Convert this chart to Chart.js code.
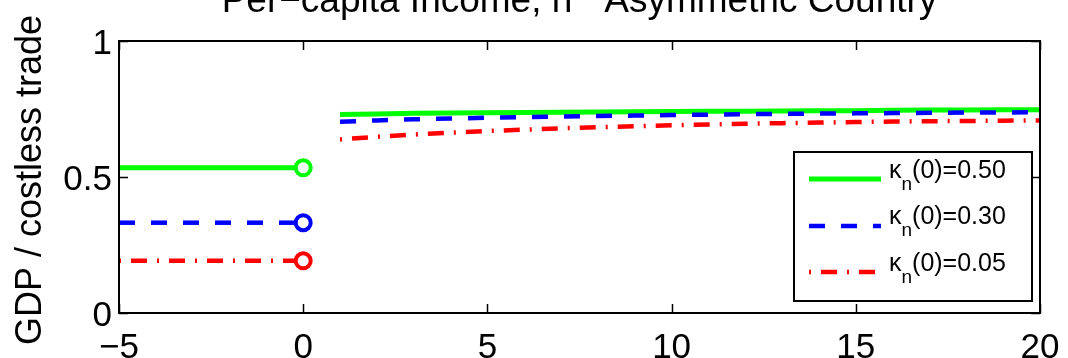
<!DOCTYPE html>
<html>
<head>
<meta charset="utf-8">
<script src="https://cdn.jsdelivr.net/npm/chart.js@4.4.0/dist/chart.umd.min.js"></script>
<style>
  body { margin: 0; background: #fff; }
  canvas { display: block; }
</style>
</head>
<body>
<canvas id="incomeChart" width="1068" height="358"></canvas>
<script>
// years before and after the change
const preYears = [-5, 0];
const postYears = [1, 2, 3, 4, 5, 6, 7, 8, 9, 10, 11, 12, 13, 14, 15, 16, 17, 18, 19, 20];

const kappaLabels = ["0.50", "0.30", "0.05"];
const preIncome = [0.534, 0.332, 0.192];

const postHigh = [0.730, 0.732, 0.734, 0.735, 0.736, 0.737, 0.738, 0.739, 0.740, 0.741,
                  0.742, 0.742, 0.743, 0.744, 0.744, 0.745, 0.746, 0.746, 0.747, 0.747];
const postMid  = [0.703, 0.708, 0.712, 0.715, 0.718, 0.720, 0.722, 0.724, 0.726, 0.728,
                  0.729, 0.731, 0.732, 0.733, 0.734, 0.735, 0.736, 0.737, 0.737, 0.738];
const postLow  = [0.638, 0.648, 0.656, 0.663, 0.669, 0.674, 0.679, 0.683, 0.687, 0.690,
                  0.693, 0.696, 0.698, 0.700, 0.702, 0.704, 0.705, 0.706, 0.707, 0.708];

const xTicks = [-5, 0, 5, 10, 15, 20];
const yTicks = [0, 0.5, 1];

const FONT = "'Liberation Sans', Arial, Helvetica, sans-serif";
const colors = ["#00ff00", "#0000ff", "#ff0000"];
const dashes = [[], [16, 16], [2, 10, 16, 10]];
const widths = [5, 4.5, 4.5];
const postSeries = [postHigh, postMid, postLow];

const datasets = [];
kappaLabels.forEach((k, i) => {
  datasets.push({
    label: "pre " + k,
    data: preYears.map(x => ({ x, y: preIncome[i] })),
    borderColor: colors[i],
    borderWidth: widths[i],
    borderDash: dashes[i],
    borderCapStyle: "butt",
    pointRadius: [0, 7.5],
    pointBorderWidth: 4,
    pointBorderColor: colors[i],
    pointBackgroundColor: "#fff",
    order: 3 - i,
  });
  datasets.push({
    label: "post " + k,
    data: postYears.map((x, j) => ({ x, y: postSeries[i][j] })),
    borderColor: colors[i],
    borderWidth: widths[i],
    borderDash: dashes[i],
    borderCapStyle: "butt",
    pointRadius: 0,
    order: 3 - i,
  });
});

// box around the axes with inward ticks on all four sides
const axesBox = {
  id: "axesBox",
  afterDatasetsDraw(chart) {
    const { ctx, chartArea: a, scales } = chart;
    ctx.save();
    ctx.strokeStyle = "#000";
    ctx.lineWidth = 1.5;
    ctx.beginPath();
    xTicks.forEach(v => {
      const px = Math.round(scales.x.getPixelForValue(v)) + 0.5;
      ctx.moveTo(px, a.bottom); ctx.lineTo(px, a.bottom - 9);
      ctx.moveTo(px, a.top); ctx.lineTo(px, a.top + 9);
    });
    yTicks.forEach(v => {
      const py = Math.round(scales.y.getPixelForValue(v)) + 0.5;
      ctx.moveTo(a.left, py); ctx.lineTo(a.left + 9, py);
      ctx.moveTo(a.right, py); ctx.lineTo(a.right - 9, py);
    });
    ctx.stroke();
    ctx.lineWidth = 2;
    ctx.strokeRect(a.left, a.top, a.right - a.left, a.bottom - a.top);
    ctx.restore();
  }
};

// title, y label and the legend with subscripted kappa
const annotations = {
  id: "annotations",
  afterDraw(chart) {
    const { ctx, chartArea: a } = chart;
    ctx.save();
    ctx.fillStyle = "#000";
    ctx.textBaseline = "alphabetic";

    // title
    const t1 = "Per\u2212capita Income, n", sup = "th", t2 = " Asymmetric Country";
    ctx.font = "37px " + FONT;
    const w1 = ctx.measureText(t1).width, w2 = ctx.measureText(t2).width;
    ctx.font = "26px " + FONT;
    const ws = ctx.measureText(sup).width;
    let tx = (a.left + a.right) / 2 - (w1 + ws + w2) / 2;
    const ty = 12;
    ctx.textAlign = "left";
    ctx.font = "37px " + FONT;
    ctx.fillText(t1, tx, ty);
    ctx.font = "26px " + FONT;
    ctx.fillText(sup, tx + w1, ty - 15);
    ctx.font = "37px " + FONT;
    ctx.fillText(t2, tx + w1 + ws, ty);

    // y label
    ctx.save();
    ctx.translate(41, (a.top + a.bottom) / 2 + 3);
    ctx.rotate(-Math.PI / 2);
    ctx.textAlign = "center";
    ctx.font = "36px " + FONT;
    ctx.fillText("GDP / costless trade", 0, 0);
    ctx.restore();

    // legend
    const lx = 794, ly = 152, lw = 238, lh = 149;
    ctx.fillStyle = "#fff";
    ctx.fillRect(lx, ly, lw, lh);
    ctx.strokeStyle = "#000";
    ctx.lineWidth = 2;
    ctx.strokeRect(lx, ly, lw, lh);
    const rows = [179, 226, 272];
    const base = [178, 224, 271];
    kappaLabels.forEach((k, i) => {
      ctx.strokeStyle = colors[i];
      ctx.lineWidth = widths[i];
      ctx.lineCap = "butt";
      ctx.setLineDash(dashes[i]);
      ctx.beginPath();
      ctx.moveTo(809, rows[i]);
      ctx.lineTo(881, rows[i]);
      ctx.stroke();
      ctx.setLineDash([]);
      ctx.fillStyle = "#000";
      ctx.textAlign = "left";
      let x = 889;
      ctx.font = "25px " + FONT;
      ctx.fillText("\u03ba", x, base[i]);
      x += ctx.measureText("\u03ba").width;
      ctx.font = "19px " + FONT;
      ctx.fillText("n", x, base[i] + 12);
      x += ctx.measureText("n").width;
      ctx.font = "25px " + FONT;
      ctx.fillText("(0)=" + k, x, base[i]);
    });
    ctx.restore();
  }
};

new Chart(document.getElementById("incomeChart"), {
  type: "line",
  data: { datasets },
  options: {
    responsive: false,
    animation: false,
    layout: { padding: { top: 41, right: 28, left: 0, bottom: 0 } },
    plugins: { legend: { display: false }, tooltip: { enabled: false }, title: { display: false } },
    scales: {
      x: {
        type: "linear",
        min: -5, max: 20,
        afterBuildTicks: s => { s.ticks = xTicks.map(v => ({ value: v })); },
        afterFit: s => { s.height = 45; s.paddingLeft = 0; s.paddingRight = 0; },
        grid: { display: false, drawTicks: false },
        border: { display: false },
        ticks: {
          color: "#000",
          font: { family: FONT, size: 35 },
          padding: 14,
          maxRotation: 0,
          callback: v => (v < 0 ? "\u2212" + Math.abs(v) : String(v)),
        },
      },
      y: {
        type: "linear",
        min: 0, max: 1,
        afterBuildTicks: s => { s.ticks = yTicks.map(v => ({ value: v })); },
        afterFit: s => { s.width = 119; s.paddingTop = 0; s.paddingBottom = 0; },
        grid: { display: false, drawTicks: false },
        border: { display: false },
        ticks: {
          color: "#000",
          font: { family: FONT, size: 35 },
          padding: 7,
          labelOffset: 3,
          callback: v => String(v),
        },
      },
    },
  },
  plugins: [axesBox, annotations],
});
</script>
</body>
</html>
